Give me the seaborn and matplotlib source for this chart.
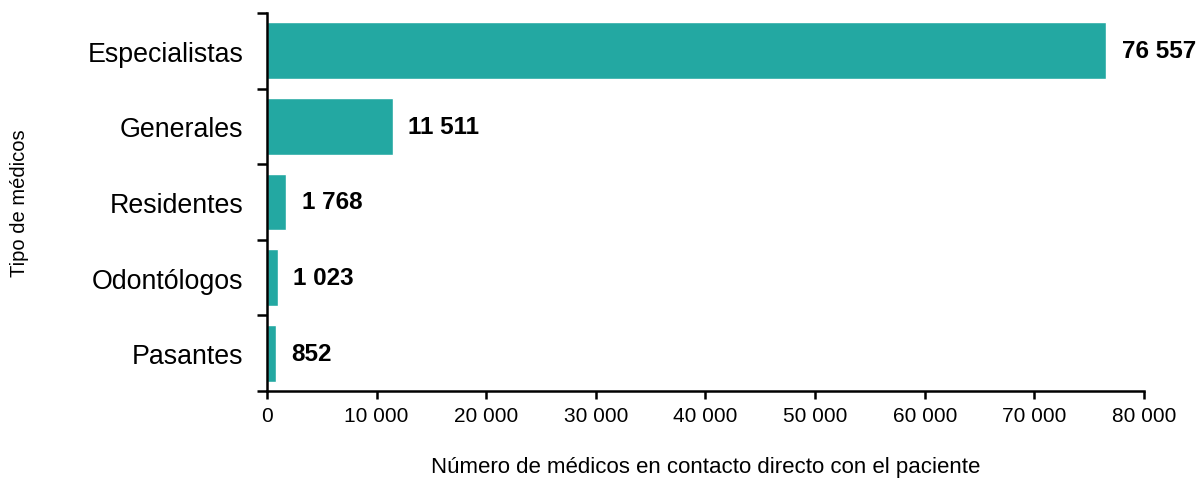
import matplotlib
matplotlib.use("Agg")
import matplotlib.pyplot as plt
import numpy as np
import pandas as pd
import seaborn as sns
from matplotlib.ticker import FuncFormatter, FixedLocator

categories = ["Especialistas", "Generales", "Residentes", "Odontólogos", "Pasantes"]
values = [76557, 11511, 1768, 1023, 852]
x_ticks = [0, 10000, 20000, 30000, 40000, 50000, 60000, 70000, 80000]

BAR_COLOR = "#23a8a2"


def fmt_thousands(v):
    return f"{int(v):,}".replace(",", " ")


def main():
    sns.set_theme(style="white")
    plt.rcParams["font.family"] = ["Liberation Sans", "DejaVu Sans"]
    plt.rcParams["text.color"] = "black"
    plt.rcParams["axes.labelcolor"] = "black"

    df = pd.DataFrame({"tipo": categories, "medicos": values})

    fig = plt.figure(figsize=(11.97, 4.81), dpi=100)
    ax = fig.add_axes([0.223, 0.185, 0.7327, 0.786])

    sns.barplot(
        data=df,
        x="medicos",
        y="tipo",
        orient="h",
        color=BAR_COLOR,
        saturation=1,
        width=0.75,
        ax=ax,
    )

    for i, v in enumerate(values):
        ax.annotate(
            fmt_thousands(v),
            xy=(v, i),
            xytext=(11, 0),
            textcoords="offset points",
            va="center",
            ha="left",
            fontsize=17.5,
            fontweight="bold",
            color="black",
            annotation_clip=False,
        )

    ax.set_xlim(0, 80000)
    ax.set_ylim(len(categories) - 0.5, -0.5)
    ax.set_xticks(x_ticks)
    ax.xaxis.set_major_formatter(FuncFormatter(lambda v, p: fmt_thousands(v)))

    # y ticks between categories
    ax.yaxis.set_minor_locator(FixedLocator(np.arange(-0.5, len(categories), 1.0)))
    ax.tick_params(axis="y", which="major", length=0, pad=17, labelsize=19.3, colors="black")
    ax.tick_params(axis="y", which="minor", length=7, width=1.8, color="black", direction="out", left=True)
    ax.tick_params(axis="x", which="major", length=6, width=1.8, color="black", labelcolor="black",
                   direction="out", bottom=True, labelsize=15, pad=5)

    for side in ["top", "right"]:
        ax.spines[side].set_visible(False)
    for side in ["left", "bottom"]:
        ax.spines[side].set_color("black")
        ax.spines[side].set_linewidth(1.8)

    ax.set_xlabel("Número de médicos en contacto directo con el paciente", fontsize=16, labelpad=22)
    ax.set_ylabel("Tipo de médicos", fontsize=14.5, labelpad=42)

    fig.savefig("out.png", dpi=100)
    plt.close(fig)


if __name__ == "__main__":
    main()
